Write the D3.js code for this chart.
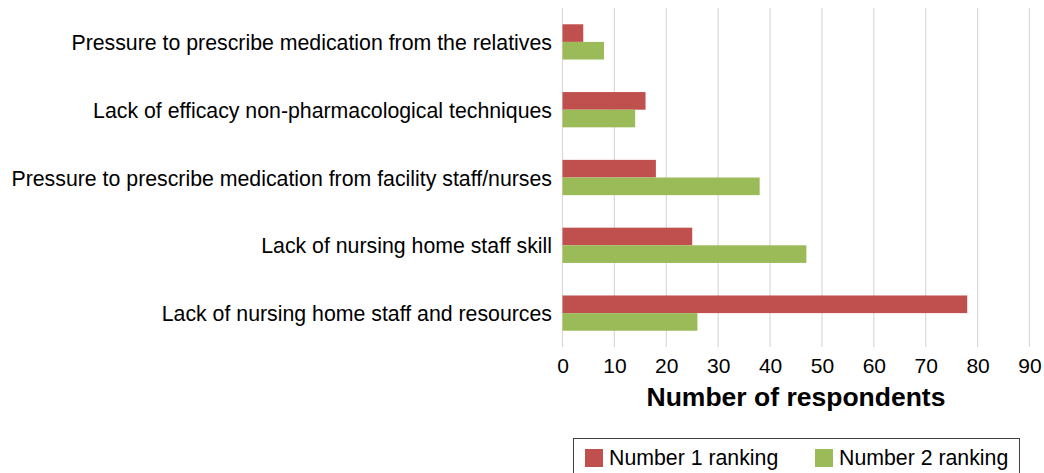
<!DOCTYPE html>
<html><head><meta charset="utf-8">
<script src="https://cdn.jsdelivr.net/npm/d3@7"></script>
<style>
body{margin:0;background:#fff;}
svg{display:block;font-family:"Liberation Sans",Arial,sans-serif;}
</style></head>
<body><svg id="c" width="1044" height="473"></svg>
<script>
const categories = [
  "Pressure to prescribe medication from the relatives",
  "Lack of efficacy non-pharmacological techniques",
  "Pressure to prescribe medication from facility staff/nurses",
  "Lack of nursing home staff skill",
  "Lack of nursing home staff and resources"
];
const seriesNames = ["Number 1 ranking", "Number 2 ranking"];
const rank1 = [4, 16, 18, 25, 78];
const rank2 = [8, 14, 38, 47, 26];
const xTicks = [0,10,20,30,40,50,60,70,80,90];
const colors = ["#C0504D", "#9BBB59"];

const svg = d3.select("#c");
const m = {left:562.5, right:1029.5, top:8, bottom:347};

const x = d3.scaleLinear().domain([0,90]).range([m.left, m.right]);
const y = d3.scaleBand().domain(categories).range([m.top, m.bottom]).paddingInner(0.48).paddingOuter(0.24);
const ySub = d3.scaleBand().domain(seriesNames).range([0, y.bandwidth()]);

// gridlines
svg.append("g").selectAll("line").data(xTicks).join("line")
  .attr("x1", d=>x(d)).attr("x2", d=>x(d))
  .attr("y1", m.top).attr("y2", m.bottom)
  .attr("stroke", "#d9d9d9").attr("stroke-width", 1.2);

// bars
const series = [rank1, rank2];
const g = svg.append("g");
series.forEach((vals, si) => {
  g.selectAll(".s"+si).data(categories).join("rect")
    .attr("x", x(0))
    .attr("y", (d)=> y(d) + ySub(seriesNames[si]))
    .attr("width", (d,i)=> x(vals[i]) - x(0))
    .attr("height", ySub.bandwidth())
    .attr("fill", colors[si]);
});

// x axis labels
const xAxis = d3.axisBottom(x).tickValues(xTicks).tickSize(0).tickPadding(0);
const ax = svg.append("g").attr("transform", `translate(0,${m.bottom})`).call(xAxis);
ax.select(".domain").remove();
ax.selectAll("text").attr("font-size", 21).attr("fill", "#000")
  .attr("font-family", "Liberation Sans, Arial, sans-serif").attr("dy", "0").attr("y", 25.5);

// y axis labels
const yAxis = d3.axisLeft(y).tickSize(0).tickPadding(10.5);
const ay = svg.append("g").attr("transform", `translate(${m.left},0)`).call(yAxis);
ay.select(".domain").remove();
ay.selectAll("text").attr("font-size", 21.3).attr("fill", "#000").attr("dy", "0.38em")
  .attr("font-family", "Liberation Sans, Arial, sans-serif");

// axis title
svg.append("text").attr("x", 796).attr("y", 406)
  .attr("text-anchor", "middle").attr("font-size", 26.5).attr("font-weight", "bold")
  .text("Number of respondents");

// legend
const lg = svg.append("g");
lg.append("rect").attr("x", 573.5).attr("y", 438.5).attr("width", 446).attr("height", 50)
  .attr("fill", "none").attr("stroke", "#404040").attr("stroke-width", 1);
const lx = [585, 815];
seriesNames.forEach((s, i) => {
  lg.append("rect").attr("x", lx[i]).attr("y", 449).attr("width", 18).attr("height", 18).attr("fill", colors[i]);
  lg.append("text").attr("x", lx[i] + 24).attr("y", 465).attr("font-size", 21.3).text(s);
});
</script></body></html>
